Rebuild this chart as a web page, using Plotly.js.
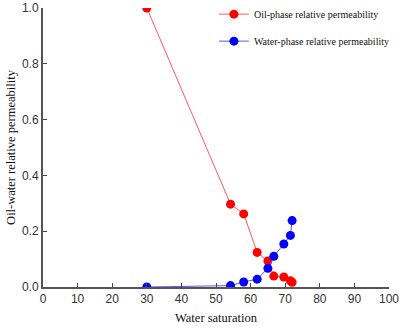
<!DOCTYPE html>
<html>
<head>
<meta charset="utf-8">
<script src="https://cdn.plot.ly/plotly-3.0.1.min.js"></script>
<style>
  html, body { margin: 0; padding: 0; background: #fff; }
  #chart { width: 400px; height: 329px; }
</style>
</head>
<body>
<div id="chart"></div>
<script>
// water saturation (%) shared by both curves
var saturation = [30, 54.2, 58.0, 61.9, 65.0, 66.7, 69.6, 71.5, 72.0];
var oilPerm = [1.0, 0.297, 0.262, 0.124, 0.093, 0.039, 0.036, 0.022, 0.017];
var waterPerm = [0.0, 0.005, 0.018, 0.028, 0.067, 0.110, 0.154, 0.185, 0.238];

var oilTrace = {
  x: saturation,
  y: oilPerm,
  mode: 'lines+markers',
  name: 'Oil-phase relative permeability',
  legendgroup: 'oil',
  line: {color: '#ff5a5a', width: 1},
  marker: {color: '#ff0000', size: 9}
};

var waterTrace = {
  x: saturation,
  y: waterPerm,
  mode: 'lines+markers',
  name: 'Water-phase relative permeability',
  legendgroup: 'water',
  line: {color: '#5a5ae6', width: 1},
  marker: {color: '#0000ff', size: 9}
};

var axisFont = {family: 'Liberation Sans, Arial', size: 12, color: '#333'};
var titleFont = {family: 'Liberation Serif, Times New Roman', size: 12.5, color: '#111'};

var layout = {
  width: 400,
  height: 329,
  margin: {l: 43, r: 11, t: 8, b: 42, autoexpand: false},
  paper_bgcolor: '#fff',
  plot_bgcolor: '#fff',
  showlegend: true,
  legend: {
    x: 0.494, y: 1.03, xanchor: 'left', yanchor: 'top',
    bgcolor: 'rgba(0,0,0,0)',
    font: {family: 'Liberation Serif, Times New Roman', size: 10, color: '#111'},
    tracegroupgap: 8
  },
  xaxis: {
    range: [0, 100],
    tickvals: [0, 10, 20, 30, 40, 50, 60, 70, 80, 90, 100],
    ticks: 'inside', ticklen: 4, tickcolor: '#444',
    showline: true, linecolor: '#555', linewidth: 2,
    showgrid: false, zeroline: false,
    tickfont: axisFont,
    title: {text: 'Water saturation', font: titleFont, standoff: 8}
  },
  yaxis: {
    range: [0, 1.0],
    tickvals: [0, 0.2, 0.4, 0.6, 0.8, 1.0],
    tickformat: '.1f',
    ticks: 'inside', ticklen: 4, tickcolor: '#444',
    showline: true, linecolor: '#555', linewidth: 2,
    showgrid: false, zeroline: false,
    tickfont: axisFont,
    title: {text: 'Oil-water relative permeability', font: titleFont, standoff: 4}
  }
};

Plotly.newPlot('chart', [oilTrace, waterTrace], layout, {displayModeBar: false, staticPlot: true});
</script>
</body>
</html>
